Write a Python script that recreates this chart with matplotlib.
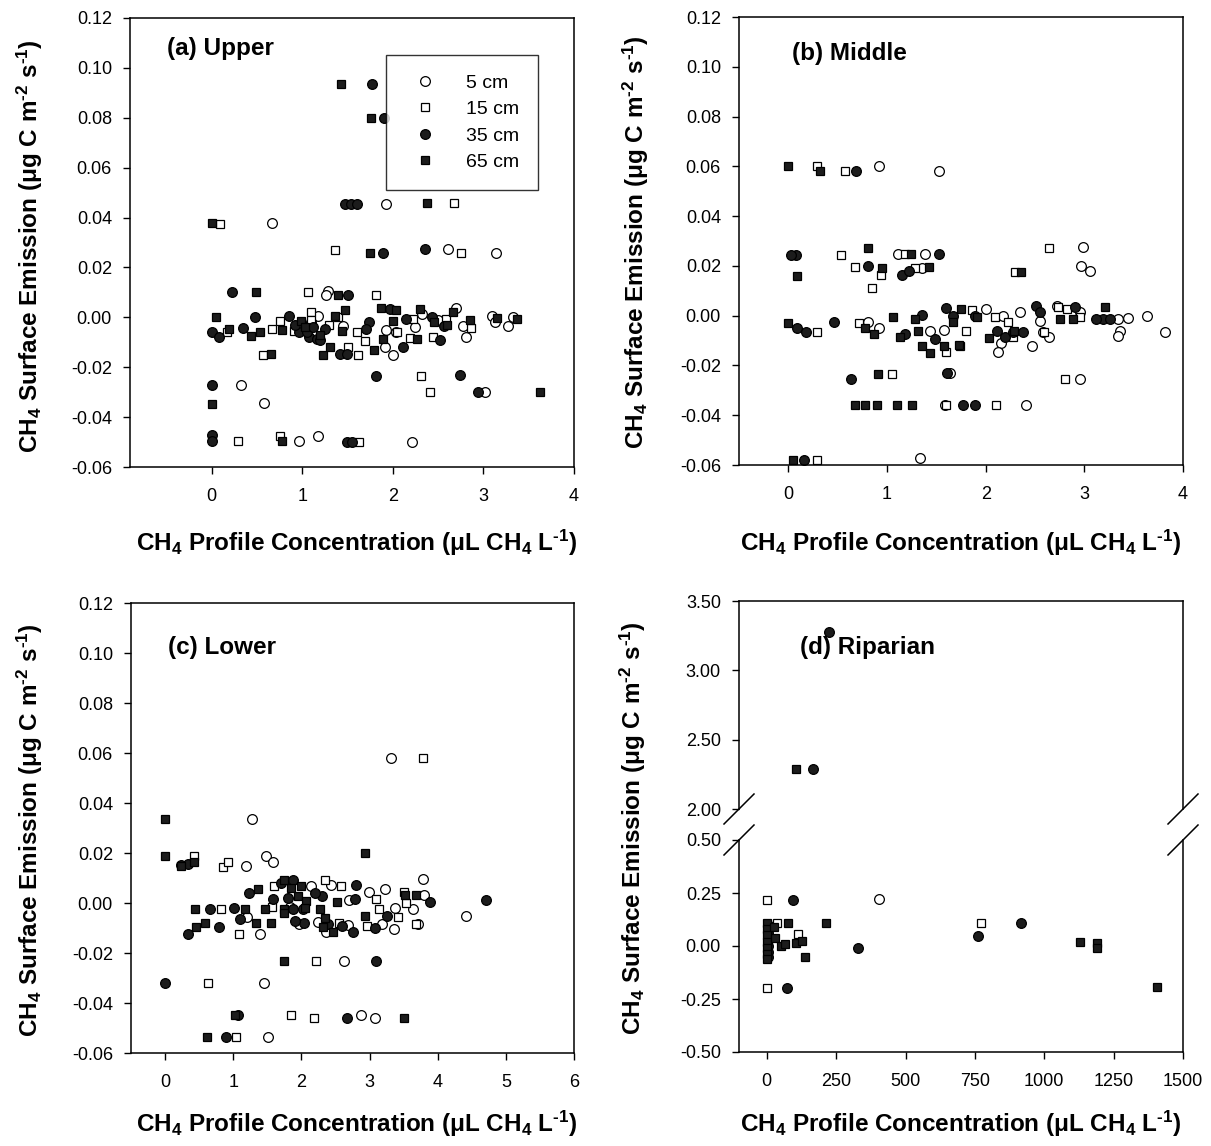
import matplotlib
matplotlib.use("Agg")
from matplotlib import pyplot as plt
from matplotlib.lines import Line2D

plt.rcParams['font.family'] = ['Liberation Sans', 'DejaVu Sans']
plt.rcParams['mathtext.default'] = 'regular'
plt.rcParams['axes.unicode_minus'] = False

# ---- datos: (a) Upper ----
a5_x = [1.93, 0.67, 2.61, 3.14, 1.29, 1.26, 2.70, 3.10, 3.13, 3.27, 3.33, 2.77, 2.81, 1.18, 1.45,
        1.91, 2.00, 1.93, 2.04, 0.32, 0.58, 3.02, 1.18, 0.97, 2.21, 2.32, 1.10, 2.50, 2.25]
a5_y = [0.0453, 0.0377, 0.0273, 0.0256, 0.0104, 0.009, 0.0037, 0.0007, -0.0017, -0.0033, 0.0, -0.0033,
        -0.008, 0.0004, -0.0033, -0.012, -0.015, -0.005, -0.006, -0.027, -0.0344, -0.030, -0.0477,
        -0.0497, -0.050, 0.0013, -0.002, -0.001, -0.004]
a15_x = [2.68, 0.09, 1.36, 2.75, 1.06, 1.81, 1.10, 0.75, 0.67, 0.17, 0.91, 1.10, 1.39, 1.60, 1.69,
         1.51, 1.62, 0.57, 2.44, 2.86, 2.19, 2.22, 2.31, 2.41, 0.29, 0.75, 1.63, 2.59, 1.30, 2.05]
a15_y = [0.046, 0.0376, 0.027, 0.0256, 0.010, 0.009, 0.0023, -0.0013, -0.0047, -0.0057, -0.0053, -0.001,
         0.0, -0.0057, -0.0093, -0.012, -0.015, -0.0149, -0.008, -0.0044, -0.0083, -0.0007, -0.0236,
         -0.030, -0.0497, -0.0477, -0.050, -0.0007, -0.003, -0.006]
a35_x = [1.77, 1.90, 1.47, 1.54, 1.61, 1.89, 2.36, 0.23, 1.51, 0.0, 0.08, 0.35, 0.48, 0.86, 1.07, 1.16,
         1.42, 1.49, 2.11, 2.52, 1.82, 2.74, 2.94, 0.0, 0.0, 0.0, 1.49, 1.55, 1.74, 2.15, 2.43, 2.57,
         0.97, 1.25, 1.97, 1.71, 1.05, 1.12, 1.20, 0.92]
a35_y = [0.0937, 0.080, 0.0453, 0.0453, 0.0453, 0.0257, 0.0273, 0.0103, 0.009, -0.0057, -0.0077, -0.0044,
         0.0, 0.0004, -0.008, -0.0087, -0.0148, -0.0148, -0.0117, -0.009, -0.0236, -0.0233, -0.030,
         -0.0273, -0.0473, -0.0497, -0.050, -0.050, -0.002, -0.0007, 0.0, -0.0033, -0.006, -0.0047,
         0.0033, -0.0047, -0.006, -0.004, -0.009, -0.003]
a65_x = [1.43, 1.76, 2.38, 0.0, 1.75, 0.49, 1.40, 0.05, 0.19, 0.44, 0.54, 0.66, 0.78, 0.99, 1.47, 1.36,
         1.23, 1.31, 1.89, 1.79, 1.44, 2.0, 2.04, 1.87, 2.30, 2.27, 2.67, 2.85, 3.15, 3.37, 3.62, 0.0,
         0.78, 2.46, 1.03, 1.20, 2.60]
a65_y = [0.0937, 0.080, 0.046, 0.0377, 0.0256, 0.010, 0.009, 0.0, -0.0047, -0.0076, -0.006, -0.0148,
         -0.005, -0.0016, 0.003, 0.0007, -0.015, -0.012, -0.0087, -0.013, -0.0053, -0.0013, 0.003, 0.0037,
         0.0033, -0.0087, 0.002, -0.001, -0.0004, -0.0007, -0.030, -0.0347, -0.0496, -0.002, -0.004,
         -0.007, -0.003]

# ---- datos: (b) Middle ----
b5_x = [0.92, 1.53, 1.39, 1.11, 2.99, 2.97, 3.06, 1.35, 2.0, 2.18, 2.35, 2.55, 2.72, 2.96, 3.34, 3.44,
        3.64, 3.82, 3.36, 3.34, 2.64, 2.58, 2.47, 2.16, 2.12, 0.81, 0.92, 1.44, 1.58, 1.64, 2.41, 2.96,
        1.33, 1.59]
b5_y = [0.060, 0.058, 0.0247, 0.0247, 0.0277, 0.020, 0.018, 0.0193, 0.0027, 0.0, 0.0013, -0.002, 0.004,
        0.0013, -0.0013, -0.001, 0.0, -0.0064, -0.006, -0.0083, -0.0087, -0.0067, -0.012, -0.011,
        -0.0147, -0.0027, -0.005, -0.006, -0.0056, -0.023, -0.0357, -0.0253, -0.0573, -0.0357]
b15_x = [0.29, 0.57, 0.53, 1.18, 0.68, 0.94, 0.85, 1.28, 2.64, 2.30, 0.29, 0.72, 1.05, 1.80, 1.86, 1.60,
         2.23, 2.28, 2.73, 2.82, 2.96, 2.59, 2.80, 2.10, 1.60, 0.29, 1.74, 2.09]
b15_y = [0.060, 0.058, 0.0244, 0.0247, 0.0197, 0.0164, 0.0113, 0.0193, 0.0273, 0.0177, -0.0067, -0.003,
         -0.0233, -0.0063, 0.0023, -0.0147, -0.0027, -0.0087, 0.0036, 0.0027, -0.0007, -0.0064, -0.0253,
         -0.0357, -0.0357, -0.058, -0.012, -0.0007]
b35_x = [0.69, 0.08, 0.03, 1.53, 0.81, 1.15, 1.22, 0.09, 0.18, 0.46, 0.64, 1.35, 1.60, 1.49, 1.18, 1.89,
         2.11, 2.20, 2.38, 2.51, 2.55, 2.91, 3.19, 3.26, 1.61, 1.77, 1.89, 0.16, 1.67, 2.28, 3.12]
b35_y = [0.058, 0.0244, 0.0244, 0.0247, 0.020, 0.0164, 0.018, -0.005, -0.0067, -0.0027, -0.0256, 0.0003,
         0.003, -0.0093, -0.0073, 0.0, -0.006, -0.0087, -0.0064, 0.004, 0.0013, 0.0036, -0.0013, -0.0013,
         -0.023, -0.036, -0.036, -0.058, 0.0, -0.0067, -0.0013]
b65_x = [0.0, 0.32, 0.81, 1.24, 0.95, 1.43, 0.09, 2.36, 0.0, 0.78, 0.87, 1.06, 1.13, 1.31, 1.35, 1.44,
         1.58, 1.73, 1.75, 2.03, 2.29, 2.75, 3.21, 2.89, 0.91, 0.68, 0.78, 0.90, 1.10, 1.25, 0.05, 1.67,
         1.91, 1.28]
b65_y = [0.060, 0.058, 0.0273, 0.0247, 0.0193, 0.0197, 0.016, 0.0177, -0.003, -0.005, -0.0073, -0.0007,
         -0.0087, -0.006, -0.0123, -0.015, -0.0123, -0.0117, 0.0027, -0.009, -0.006, -0.0013, 0.0033,
         -0.0013, -0.0233, -0.036, -0.036, -0.036, -0.036, -0.036, -0.058, -0.0027, -0.0007, -0.0013]

# ---- datos: (c) Lower ----
c5_x = [3.31, 1.28, 1.48, 1.58, 1.19, 3.78, 2.14, 2.44, 3.22, 3.80, 2.70, 2.99, 3.38, 3.64, 4.41, 1.20,
        1.39, 2.25, 2.68, 3.36, 3.19, 3.71, 2.63, 1.45, 2.88, 3.08, 1.51, 1.83, 1.97, 2.36]
c5_y = [0.058, 0.0335, 0.0188, 0.0163, 0.0147, 0.0095, 0.0067, 0.0073, 0.0056, 0.0032, 0.0012, 0.0043,
        -0.002, -0.0024, -0.0053, -0.0057, -0.0124, -0.0077, -0.0088, -0.0104, -0.0084, -0.0084, -0.0233,
        -0.032, -0.0448, -0.046, -0.0535, -0.0017, -0.0084, -0.0117]
c15_x = [3.78, 0.42, 0.85, 0.93, 1.60, 2.34, 2.58, 0.82, 1.57, 1.08, 3.09, 3.51, 3.14, 3.42, 2.55, 2.96,
         3.68, 2.22, 0.63, 1.85, 2.19, 1.04, 3.53]
c15_y = [0.058, 0.0187, 0.0145, 0.0163, 0.0069, 0.0092, 0.0067, -0.0024, -0.0017, -0.0124, 0.0016,
         0.0043, -0.0024, -0.0055, -0.0081, -0.0093, -0.0084, -0.0233, -0.032, -0.0448, -0.046, -0.0535, 0.0]
c35_x = [0.24, 0.33, 1.23, 1.87, 2.80, 3.89, 4.71, 0.34, 0.66, 0.79, 1.01, 1.10, 2.04, 2.03, 2.39, 2.75,
         3.08, 3.26, 2.78, 3.09, 0.0, 1.07, 2.67, 0.90, 1.58, 1.87, 2.30, 1.70, 1.90, 2.20, 2.60, 1.80]
c35_y = [0.0152, 0.0155, 0.0039, 0.0093, 0.0073, 0.0003, 0.0012, -0.0124, -0.0024, -0.0095, -0.0021,
         -0.0064, -0.008, -0.0024, -0.0084, -0.0117, -0.010, -0.0051, 0.0016, -0.0233, -0.032, -0.0448,
         -0.046, -0.0535, 0.0016, -0.0024, 0.0029, 0.008, -0.007, 0.004, -0.009, 0.002]
c65_x = [0.0, 0.0, 0.23, 0.43, 2.94, 1.36, 1.74, 2.0, 0.44, 0.46, 0.59, 1.18, 1.34, 1.46, 1.55, 1.75,
         1.95, 2.27, 2.52, 2.46, 2.94, 3.52, 3.68, 1.74, 3.51, 0.62, 1.02, 2.31, 2.07, 1.85, 1.75, 2.05,
         2.35]
c65_y = [0.0335, 0.0187, 0.0149, 0.0165, 0.0199, 0.0056, 0.0093, 0.0069, -0.0024, -0.0097, -0.0081,
         -0.0024, -0.0081, -0.0024, -0.0081, -0.0024, 0.0029, -0.0024, 0.0003, -0.0117, -0.0051, 0.0032,
         0.0032, -0.0233, -0.046, -0.0535, -0.0448, -0.0097, 0.001, 0.006, -0.004, -0.002, -0.006]

# ---- datos: (d) Riparian ----
d5_x = [405]
d5_y = [0.22]
d15_x = [0, 36, 112, 773, 0]
d15_y = [0.217, 0.108, 0.056, 0.11, -0.198]
d35_x = [224, 167, 94, 5, 5, 5, 5, 5, 5, 918, 763, 330, 72]
d35_y = [3.28, 2.29, 0.217, 0.10, 0.06, 0.03, 0.0, -0.03, -0.05, 0.11, 0.049, -0.011, -0.198]
d65_x = [107, 0, 0, 0, 0, 0, 0, 0, 25, 30, 76, 50, 65, 105, 127, 137, 214, 1130, 1191, 1191, 1408]
d65_y = [2.29, 0.11, 0.08, 0.05, 0.02, -0.01, -0.04, -0.06, 0.09, 0.04, 0.108, 0.0, 0.01, 0.013, 0.025,
         -0.05, 0.107, 0.017, 0.013, -0.011, -0.192]

labels = ['5 cm', '15 cm', '35 cm', '65 cm']
xlab = 'CH$_4$ Profile Concentration (\u03bcL CH$_4$ L$^{\u20101}$)'
ylab = 'CH$_4$ Surface Emission (\u03bcg C m$^{\u20102}$ s$^{\u20101}$)'

estilos = [dict(marker='o', mfc='white', ms=7),
           dict(marker='s', mfc='white', ms=6.3),
           dict(marker='o', mfc='#1c1c1c', ms=7),
           dict(marker='s', mfc='#1c1c1c', ms=6.3)]


def puntos(ax, series, clip=False):
    for (xs, ys), est, lab in zip(series, estilos, labels):
        ax.plot(xs, ys, ls='none', mec='black', mew=0.9, label=lab, clip_on=clip, **est)


def ejes(ax):
    ax.tick_params(direction='out', length=5, width=1, labelsize=13)
    ax.tick_params(axis='x', pad=10)
    ax.tick_params(axis='y', pad=8)
    for s in ax.spines.values():
        s.set_linewidth(1.1)


W, H = 1211, 1146
fig = plt.figure(figsize=(W / 100, H / 100), dpi=100)


def caja(l, t, r, b):
    return fig.add_axes([l / W, 1 - b / H, (r - l) / W, (b - t) / H])


def etiqueta(x, y, s, rot=0):
    fig.text(x / W, 1 - y / H, s, rotation=rot, fontsize=17.5, fontweight='bold',
             ha='center', va='center')


yt = [-0.06, -0.04, -0.02, 0.0, 0.02, 0.04, 0.06, 0.08, 0.10, 0.12]
yt_lab = ['%.2f' % v for v in yt]

ax_a = caja(130, 18, 574, 467)
ax_b = caja(739, 17, 1183, 465)
ax_c = caja(131, 603, 574, 1053)
ax_d1 = caja(739, 601, 1183, 809)
ax_d2 = caja(739, 840, 1183, 1052)

puntos(ax_a, [(a5_x, a5_y), (a15_x, a15_y), (a35_x, a35_y), (a65_x, a65_y)])
puntos(ax_b, [(b5_x, b5_y), (b15_x, b15_y), (b35_x, b35_y), (b65_x, b65_y)])
puntos(ax_c, [(c5_x, c5_y), (c15_x, c15_y), (c35_x, c35_y), (c65_x, c65_y)])
puntos(ax_d1, [(d5_x, d5_y), (d15_x, d15_y), (d35_x, d35_y), (d65_x, d65_y)], clip=True)
puntos(ax_d2, [(d5_x, d5_y), (d15_x, d15_y), (d35_x, d35_y), (d65_x, d65_y)], clip=True)

for ax, xl, xt in [(ax_a, (-0.9, 4), [0, 1, 2, 3, 4]),
                   (ax_b, (-0.5, 4), [0, 1, 2, 3, 4]),
                   (ax_c, (-0.5, 6), [0, 1, 2, 3, 4, 5, 6])]:
    ejes(ax)
    ax.set_xlim(*xl)
    ax.set_ylim(-0.06, 0.12)
    ax.set_xticks(xt)
    ax.set_yticks(yt)
    ax.set_yticklabels(yt_lab)

# panel (d) con eje cortado
for ax in (ax_d1, ax_d2):
    ejes(ax)
    ax.set_xlim(-100, 1500)
ax_d1.set_ylim(2.0, 3.5)
ax_d1.set_yticks([2.0, 2.5, 3.0, 3.5])
ax_d1.set_yticklabels(['2.00', '2.50', '3.00', '3.50'])
ax_d1.spines['bottom'].set_visible(False)
ax_d1.tick_params(axis='x', bottom=False, labelbottom=False)
ax_d2.set_ylim(-0.5, 0.5)
ax_d2.set_yticks([-0.5, -0.25, 0.0, 0.25, 0.5])
ax_d2.set_yticklabels(['-0.50', '-0.25', '0.00', '0.25', '0.50'])
ax_d2.spines['top'].set_visible(False)
ax_d2.set_xticks([0, 250, 500, 750, 1000, 1250, 1500])

# marcas de corte
for xc in (739, 1183):
    for yc in (809, 840):
        fig.add_artist(Line2D([(xc - 15) / W, (xc + 15) / W], [1 - (yc + 15) / H, 1 - (yc - 15) / H],
                              transform=fig.transFigure, color='black', lw=1.1))

# etiquetas de ejes
etiqueta(357, 543, xlab)
etiqueta(961, 543, xlab)
etiqueta(357, 1124, xlab)
etiqueta(961, 1124, xlab)
etiqueta(30, 246, ylab, 90)
etiqueta(636, 242, ylab, 90)
etiqueta(30, 830, ylab, 90)
etiqueta(633, 828, ylab, 90)

# titulos de cada panel
ax_a.text(0.083, 0.931, '(a) Upper', transform=ax_a.transAxes, fontsize=17.5, fontweight='bold', va='center')
ax_b.text(0.119, 0.918, '(b) Middle', transform=ax_b.transAxes, fontsize=17.5, fontweight='bold', va='center')
ax_c.text(0.0835, 0.902, '(c) Lower', transform=ax_c.transAxes, fontsize=17.5, fontweight='bold', va='center')
ax_d1.text(0.137, 0.777, '(d) Riparian', transform=ax_d1.transAxes, fontsize=17.5, fontweight='bold',
           va='center')

leg = ax_a.legend(loc='upper left', bbox_to_anchor=(0.577, 0.918), borderaxespad=0, fontsize=14,
                  numpoints=1, frameon=True, fancybox=False, edgecolor='black', borderpad=1.0,
                  handlelength=2.0, handletextpad=1.1, labelspacing=0.45)
leg.get_frame().set_linewidth(1.0)

fig.savefig('out.png', dpi=100)
